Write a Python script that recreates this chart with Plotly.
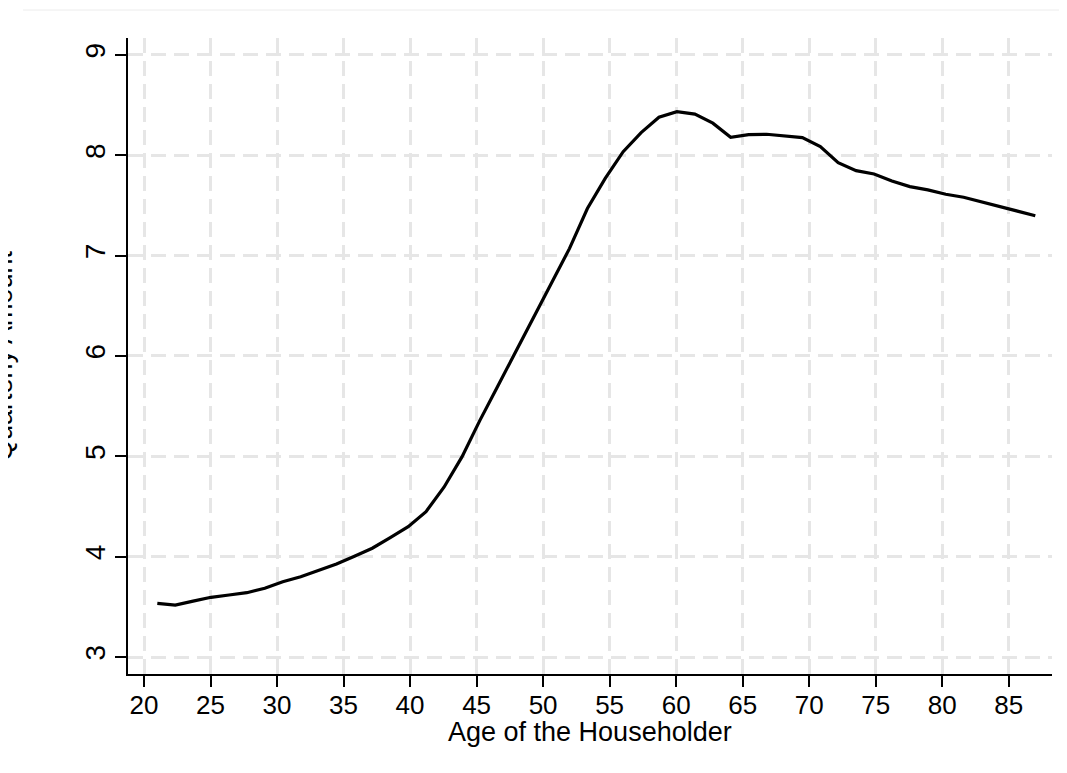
import plotly.graph_objects as go

# Data
age = [21.00, 22.35, 23.69, 25.04, 26.39, 27.73, 29.08, 30.43, 31.78, 33.12,
       34.47, 35.82, 37.16, 38.51, 39.86, 41.20, 42.55, 43.90, 45.24, 46.59,
       47.94, 49.29, 50.63, 51.98, 53.33, 54.67, 56.02, 57.37, 58.71, 60.06,
       61.41, 62.76, 64.10, 65.45, 66.80, 68.14, 69.49, 70.84, 72.18, 73.53,
       74.88, 76.22, 77.57, 78.92, 80.27, 81.61, 82.96, 84.31, 85.65, 87.00]
amount = [3.535, 3.518, 3.557, 3.595, 3.618, 3.641, 3.685, 3.751, 3.800, 3.865,
          3.927, 4.005, 4.084, 4.190, 4.299, 4.449, 4.692, 4.994, 5.356, 5.699,
          6.044, 6.389, 6.730, 7.070, 7.470, 7.770, 8.036, 8.226, 8.379, 8.435,
          8.410, 8.320, 8.180, 8.206, 8.210, 8.193, 8.176, 8.086, 7.927, 7.847,
          7.814, 7.744, 7.688, 7.655, 7.612, 7.582, 7.535, 7.486, 7.444, 7.398]
x_ticks = [20, 25, 30, 35, 40, 45, 50, 55, 60, 65, 70, 75, 80, 85]
y_ticks = [3, 4, 5, 6, 7, 8, 9]
x_title = "Age of the Householder"
y_title = "Quarterly Amount"

FONT = "Arial, Liberation Sans, sans-serif"
GRID = "#e6e6e6"

fig = go.Figure()
fig.add_trace(go.Scatter(x=age, y=amount, mode="lines",
                         line=dict(color="black", width=3.2), showlegend=False))

fig.update_layout(
    width=1059, height=765,
    margin=dict(l=120, r=15, t=30, b=99),
    paper_bgcolor="white", plot_bgcolor="white",
    font=dict(family=FONT, color="black"),
    xaxis=dict(range=[18.797, 88.255], tickvals=x_ticks,
               ticktext=[str(v) for v in x_ticks],
               showgrid=True, gridcolor=GRID, gridwidth=2.5, griddash="15px,8px",
               zeroline=False, showline=True, linecolor="black", linewidth=1.5,
               ticks="outside", ticklen=11, tickwidth=1.5, tickcolor="black",
               ticklabelstandoff=-4,
               tickfont=dict(size=26, family=FONT, color="black")),
    yaxis=dict(range=[2.8306, 9.169], tickvals=y_ticks,
               ticktext=[str(v) for v in y_ticks],
               showgrid=True, gridcolor=GRID, gridwidth=2.5, griddash="15px,8px",
               zeroline=False, showline=True, linecolor="black", linewidth=1.5,
               ticks="outside", ticklen=11, tickwidth=1.5, tickcolor="black",
               tickangle=-90, ticklabelstandoff=-1,
               tickfont=dict(size=28, family=FONT, color="black")),
    annotations=[
        dict(text=x_title, xref="paper", yref="paper", x=0.5, y=-0.0907,
             xanchor="center", yanchor="middle", showarrow=False,
             font=dict(size=27, family=FONT, color="black")),
        dict(text=y_title, xref="paper", yref="paper", x=-0.1352, y=0.5,
             xanchor="center", yanchor="middle", textangle=-90, showarrow=False,
             font=dict(size=27, family=FONT, color="black")),
    ],
    shapes=[
        dict(type="line", xref="paper", yref="paper", x0=-0.1136, x1=1.0162,
             y0=1.044, y1=1.044, line=dict(color="#ececec", width=1)),
    ],
)

fig.write_html("out.html")
